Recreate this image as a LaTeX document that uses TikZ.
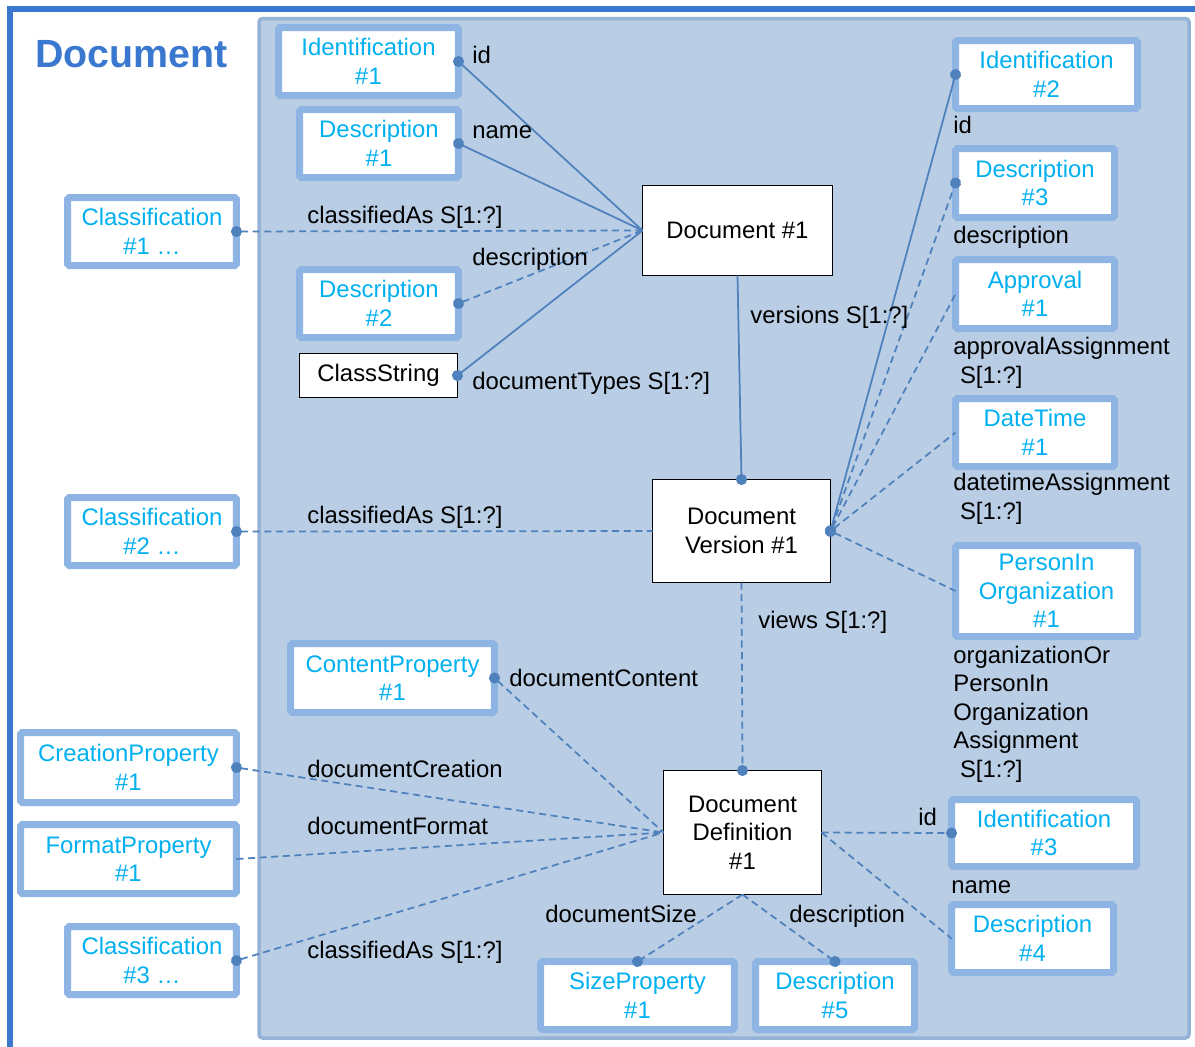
\documentclass[tikz,border=0pt]{standalone}
\usepackage{fontspec}
\setmainfont{Liberation Sans}
\usepackage{tikz}
\usetikzlibrary{arrows.meta, positioning}
\definecolor{framebl}{RGB}{58,120,208}
\definecolor{innerfill}{RGB}{185,205,229}
\definecolor{innerbd}{RGB}{149,179,215}
\definecolor{objedge}{RGB}{142,180,227}
\definecolor{objtext}{RGB}{0,176,240}
\definecolor{linkbl}{RGB}{79,129,189}

\begin{document}
\begin{tikzpicture}[x=0.02cm, y=-0.02cm,
  font=\fontsize{13.6}{16.2}\selectfont,
  obj/.style={draw=objedge, line width=0.14cm, outer sep=0pt, fill=white, text=objtext, align=center, inner sep=0pt, rounded corners=1pt},
  cls/.style={draw=black, line width=0.8pt, outer sep=0pt, fill=white, align=center, inner sep=0pt},
  lbl/.style={anchor=base west, inner sep=0pt, align=left},
  link/.style={draw=linkbl, line width=1pt},
  dlink/.style={link, dash pattern=on 4pt off 2.6pt},
  dotA/.style={{Circle[length=2.2mm]}-, shorten <=-1.1mm},
  dotB/.style={-{Circle[length=2.2mm]}, shorten >=-1.1mm},
  dotAB/.style={{Circle[length=2.2mm]}-{Circle[length=2.2mm]}, shorten <=-1.1mm, shorten >=-1.1mm}
]
\useasboundingbox (0,0) rectangle (1195,1046);
\fill[white] (0,0) rectangle (1195,1046);
\draw[framebl, line width=0.11cm] (10,1100) |- (1250,9);
\draw[draw=innerbd, fill=innerfill, line width=0.07cm, rounded corners=2pt] (259,18.5) rectangle (1189,1038);
\node[anchor=base west, inner sep=0pt, text=framebl, font=\fontsize{22.4}{26}\selectfont\bfseries] (title) at (35,67) {Document};

\node[obj, minimum width=3.60cm, minimum height=1.36cm] (id1) at (368.5,61.5) {Identification\\\#1};
\node[obj, minimum width=3.18cm, minimum height=1.36cm] (desc1) at (379,143.5) {Description\\\#1};
\node[obj, minimum width=3.38cm, minimum height=1.36cm] (cl1) at (152,231.5) {Classification\\\#1 …};
\node[obj, minimum width=3.18cm, minimum height=1.36cm] (desc2) at (379,303.5) {Description\\\#2};
\node[cls, minimum width=3.16cm, minimum height=0.88cm] (cs) at (378.5,375.5) {ClassString};
\node[cls, minimum width=3.80cm, minimum height=1.80cm] (doc1) at (737.5,230.5) {Document \#1};

\node[obj, minimum width=3.64cm, minimum height=1.36cm] (id2) at (1046.5,74.5) {Identification\\\#2};
\node[obj, minimum width=3.18cm, minimum height=1.38cm] (desc3) at (1035,183) {Description\\\#3};
\node[obj, minimum width=3.18cm, minimum height=1.38cm] (appr) at (1035,294) {Approval\\\#1};
\node[obj, minimum width=3.18cm, minimum height=1.36cm] (dt) at (1035,432.5) {DateTime\\\#1};
\node[obj, minimum width=3.64cm, minimum height=1.82cm] (pio) at (1046.5,591) {PersonIn\\Organization\\\#1};

\node[obj, minimum width=3.38cm, minimum height=1.36cm] (cl2) at (152,531.5) {Classification\\\#2 …};
\node[cls, minimum width=3.56cm, minimum height=2.06cm] (ver1) at (741.5,531) {Document\\Version \#1};

\node[obj, minimum width=4.08cm, minimum height=1.38cm] (cont) at (392.5,678) {ContentProperty\\\#1};
\node[obj, minimum width=4.32cm, minimum height=1.40cm] (crea) at (128.5,767.5) {CreationProperty\\\#1};
\node[obj, minimum width=4.32cm, minimum height=1.38cm] (fmt) at (128.5,859) {FormatProperty\\\#1};
\node[obj, minimum width=3.38cm, minimum height=1.36cm] (cl3) at (152,960.5) {Classification\\\#3 …};
\node[cls, minimum width=3.16cm, minimum height=2.48cm] (def1) at (742.5,832.5) {Document\\Definition\\\#1};
\node[obj, minimum width=3.70cm, minimum height=1.34cm] (id3) at (1044,833) {Identification\\\#3};
\node[obj, minimum width=3.24cm, minimum height=1.36cm] (desc4) at (1032.5,938.5) {Description\\\#4};
\node[obj, minimum width=3.88cm, minimum height=1.36cm] (size) at (637.5,995.5) {SizeProperty\\\#1};
\node[obj, minimum width=3.18cm, minimum height=1.36cm] (desc5) at (835,995.5) {Description\\\#5};

\draw[link, dotA] (id1.east) -- (doc1.west);
\draw[link, dotA] (desc1.east) -- (doc1.west);
\draw[dlink, dotA] (cl1.east) -- (doc1.west);
\draw[dlink, dotA] (desc2.east) -- (doc1.west);
\draw[link, dotA] (cs.east) -- (doc1.west);
\draw[link, dotB] (doc1.south) -- (ver1.north);
\draw[link, dotAB] (ver1.east) -- (id2.west);
\draw[dlink, dotAB] (ver1.east) -- (desc3.west);
\draw[dlink, dotA] (ver1.east) -- (appr.west);
\draw[dlink, dotA] (ver1.east) -- (dt.west);
\draw[dlink, dotA] (ver1.east) -- (pio.west);
\draw[dlink, dotA] (cl2.east) -- (ver1.west);
\draw[dlink, dotB] (ver1.south) -- (def1.north);
\draw[dlink, dotA] (cont.east) -- (def1.west);
\draw[dlink, dotA] (crea.east) -- (def1.west);
\draw[dlink] (fmt.east) -- (def1.west);
\draw[dlink, dotA] (cl3.east) -- (def1.west);
\draw[dlink, dotB] (def1.east) -- (id3.west);
\draw[dlink] (def1.east) -- (desc4.west);
\draw[dlink, dotB] (def1.south) -- (size.north);
\draw[dlink, dotB] (def1.south) -- (desc5.north);

\node[lbl] (lid1) at (472,63) {id};
\node[lbl] (lname1) at (472,138) {name};
\node[lbl] (lcls1) at (307,223) {classifiedAs S[1:?]};
\node[lbl] (ldesc2) at (472,265) {description};
\node[lbl] (ltypes) at (472,389) {documentTypes S[1:?]};
\node[lbl] (lvers) at (750,323) {versions S[1:?]};
\node[lbl] (lid2) at (953,133) {id};
\node[lbl] (ldesc3) at (953,243) {description};
\node[lbl] (lappr) at (953,383) {approvalAssignment\\\ S[1:?]};
\node[lbl] (ldt) at (953,519) {datetimeAssignment\\\ S[1:?]};
\node[lbl] (lpio) at (953,777) {organizationOr\\PersonIn\\Organization\\Assignment\\\ S[1:?]};
\node[lbl] (lcls2) at (307,523) {classifiedAs S[1:?]};
\node[lbl] (lviews) at (758,628) {views S[1:?]};
\node[lbl] (lcont) at (509,686) {documentContent};
\node[lbl] (lcrea) at (307,777) {documentCreation};
\node[lbl] (lfmt) at (307,834) {documentFormat};
\node[lbl] (lcls3) at (307,958) {classifiedAs S[1:?]};
\node[lbl] (lid3) at (918,825) {id};
\node[lbl] (lname4) at (951,893) {name};
\node[lbl] (lsize) at (545,922) {documentSize};
\node[lbl] (ldesc5) at (789,922) {description};
\end{tikzpicture}
\end{document}
